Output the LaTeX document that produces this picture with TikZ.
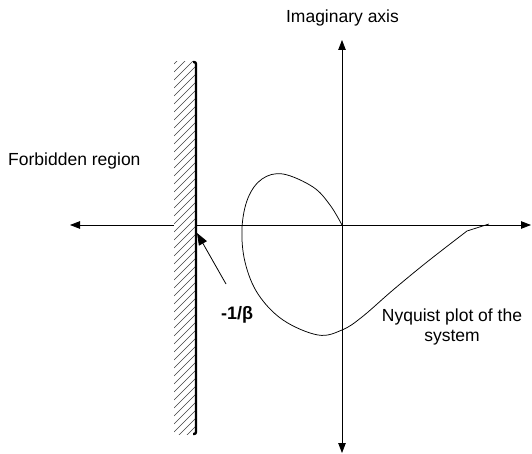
\documentclass[tikz,border=0pt]{standalone}
\usepackage{fontspec}
\setmainfont{Liberation Sans}
\usetikzlibrary{arrows.meta}
\begin{document}
\begin{tikzpicture}[x=1pt,y=-1pt,
  axis/.style={line width=0.8pt,-{Triangle[length=10pt,width=7.5pt]}},
  lbl/.style={inner sep=0pt,font=\fontsize{17.5}{19.5}\selectfont},
  curve/.style={line width=0.75pt},
  hatch/.style={black!75,line width=0.45pt},
  wall/.style={line width=2.4pt,rounded corners=2pt}]
\useasboundingbox (0,0) rectangle (532,454);
% coordinates
\coordinate (O) at (342,225);
\coordinate (xl) at (70,225);
\coordinate (xr) at (531,225);
\coordinate (yt) at (342,40);
\coordinate (yb) at (342,453);
\coordinate (wt) at (196,62);
\coordinate (wb) at (196,434);
\coordinate (crit) at (197,233);
\coordinate (astart) at (226,284);
% axes
\draw[axis] (O) -- (xl);
\draw[axis] (O) -- (xr);
\draw[axis] (O) -- (yt);
\draw[axis] (O) -- (yb);
% hatching
\fill[white] (174,62) rectangle (195,434);
\begin{scope}
  \clip (174,62) rectangle (195,434);
  \foreach \y in {40,48,...,470} {\draw[hatch] (174,\y) -- ++(22,-22);}
\end{scope}
% wall
\draw[wall] ([xshift=-3pt]wt) -- (wt) -- (wb) -- ([xshift=-3pt]wb);
% Nyquist curve
\draw[curve] plot[smooth,tension=0.6] coordinates {(342,225) (330,205) (313,187) (283,174) (262,179) (248,198) (242,228) (245,262) (258,294) (283,320) (318,335) (342,330) (362,317) (393,290) (427,262) (467,231)} -- (489,224);
% critical point arrow
\draw[line width=0.8pt,-{Triangle[length=12pt,width=9pt]}] (astart) -- (crit);
% labels
\node[lbl,anchor=base] (imag) at (342.5,22.5) {Imaginary axis};
\node[lbl,anchor=base west] (forb) at (8,166) {Forbidden region};
\node[lbl,anchor=north,align=center] (nyq) at (452,309) {Nyquist plot of the\\system};
\node[lbl,anchor=base west,font=\fontsize{18}{20}\selectfont\bfseries] (beta) at (221,319) {-1/β};
\end{tikzpicture}
\end{document}
